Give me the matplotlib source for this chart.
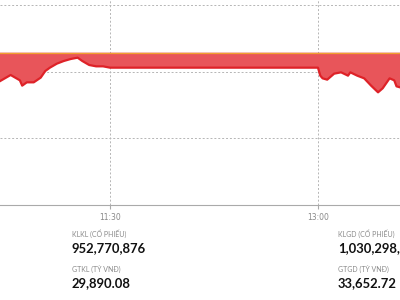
import matplotlib
matplotlib.use("Agg")

import matplotlib.pyplot as plt

# intraday index, time (HH:MM) and value
times = ["10:42", "10:47", "10:51", "10:52", "10:54", "10:57", "11:00", "11:02",
         "11:04", "11:07", "11:10", "11:13", "11:16", "11:18", "11:21", "11:24",
         "11:27", "11:30", "13:00", "13:01", "13:02", "13:04", "13:07", "13:10",
         "13:13", "13:14", "13:17", "13:20", "13:23", "13:26", "13:28", "13:31",
         "13:33", "13:34", "13:36"]
values = [1278.5, 1279.5, 1278.7, 1277.9, 1278.4, 1278.4, 1279.1, 1280.1,
          1280.6, 1281.2, 1281.6, 1281.9, 1282.1, 1281.6, 1281.0, 1280.8,
          1280.8, 1280.6, 1280.6, 1279.4, 1279.0, 1278.8, 1279.7, 1279.9,
          1279.4, 1279.9, 1279.4, 1279.0, 1277.9, 1276.9, 1277.5, 1279.0,
          1278.7, 1277.8, 1277.6]
ref_value = 1282.85

tick_times = ["11:30", "13:00"]
y_ticks = [1260, 1270, 1280, 1290]

stats_left = [("KLKL (CỔ PHIẾU)", "952,770,876"), ("GTKL (TỶ VNĐ)", "29,890.08")]
stats_right = [("KLGD (CỔ PHIẾU)", "1,030,298,412"), ("GTGD (TỶ VNĐ)", "33,652.72")]


def to_min(s):
    h, m = s.split(":")
    return int(h) * 60 + int(m)


xs = [to_min(t) for t in times]

fig = plt.figure(figsize=(4, 3), dpi=100)
ax = fig.add_axes([0, 1 - 205 / 300, 1, 205 / 300])

ax.fill_between(xs, values, ref_value, color="#e8555a", lw=0)
ax.plot(xs, values, color="#de2228", lw=1.6)
ax.axhline(ref_value, color="#f0a030", lw=0.9)

ax.set_xlim(642.4, 815.5)
ax.set_ylim(1260, 1290.75)
ax.set_yticks(y_ticks)
ax.set_xticks([to_min(t) for t in tick_times])
ax.set_xticklabels(tick_times)
ax.tick_params(axis="x", length=3, color="#aaaaaa", labelsize=5.5,
               labelcolor="#888888", pad=2.5)
ax.tick_params(axis="y", left=False, labelleft=False)
ax.grid(True, color="#b5b5b5", ls=(0, (2, 2)), lw=0.7)
ax.set_axisbelow(True)
for side in ["left", "right", "top"]:
    ax.spines[side].set_visible(False)
ax.spines["bottom"].set_color("#aaaaaa")
ax.spines["bottom"].set_linewidth(0.8)

for col_x, stats in [(72, stats_left), (338, stats_right)]:
    for i, (label, value) in enumerate(stats):
        y0 = 234 + i * 35
        fig.text(col_x / 400, 1 - y0 / 300, label, fontsize=5, color="#8a8a8a",
                 va="center", ha="left", family="Lato")
        fig.text(col_x / 400, 1 - (y0 + 14.5) / 300, value, fontsize=9.4,
                 color="#111111", fontweight="bold", va="center", ha="left",
                 family="Lato")

fig.savefig("out.png", dpi=100)
